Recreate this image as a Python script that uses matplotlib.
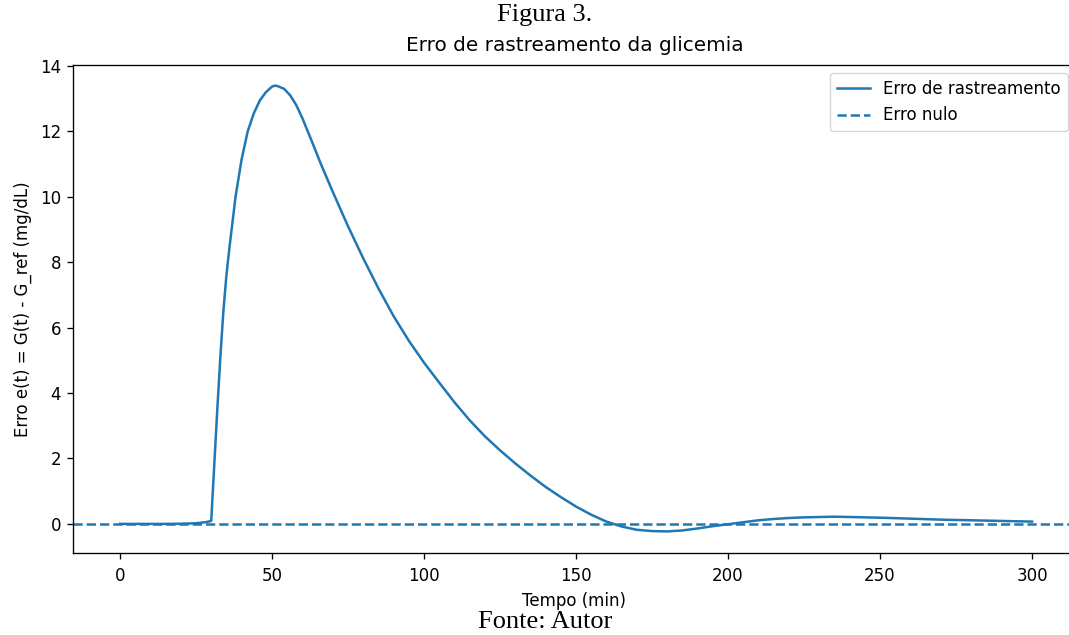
import matplotlib
matplotlib.use("Agg")
import matplotlib.pyplot as plt

# Time (min) and tracking error (mg/dL)
tempo = [0, 5, 10, 15, 20, 25, 28, 30, 31, 32, 33, 34, 35, 36, 38, 40, 42, 44,
         46, 48, 50, 51, 52, 54, 56, 58, 60, 63, 66, 70, 75, 80, 85, 90, 95,
         100, 105, 110, 115, 120, 125, 130, 135, 140, 145, 150, 155, 160, 165,
         170, 175, 180, 185, 190, 195, 200, 205, 210, 215, 220, 225, 230, 235,
         240, 245, 250, 260, 270, 280, 290, 300]
erro = [0.0, 0.0, 0.0, 0.0, 0.005, 0.02, 0.05, 0.09, 1.8, 3.5, 5.1, 6.5, 7.6,
        8.45, 10.0, 11.15, 12.0, 12.55, 12.95, 13.2, 13.37, 13.4, 13.38, 13.3,
        13.1, 12.8, 12.4, 11.72, 11.02, 10.15, 9.1, 8.12, 7.2, 6.35, 5.6, 4.93,
        4.32, 3.72, 3.17, 2.68, 2.25, 1.85, 1.48, 1.13, 0.82, 0.53, 0.28, 0.07,
        -0.08, -0.18, -0.22, -0.23, -0.2, -0.14, -0.07, -0.01, 0.05, 0.11,
        0.15, 0.18, 0.2, 0.21, 0.22, 0.21, 0.2, 0.19, 0.16, 0.13, 0.11, 0.09,
        0.07]
erro_nulo = 0.0

xticks = [0, 50, 100, 150, 200, 250, 300]
yticks = [0, 2, 4, 6, 8, 10, 12, 14]

W, H = 1069, 635
fig = plt.figure(figsize=(W / 100, H / 100), dpi=100)
ax = fig.add_axes([72.9 / W, 82 / H, (1076.1 - 72.9) / W, (553 - 65) / H])

color = "#1f77b4"
ax.plot(tempo, erro, color=color, lw=1.8, label="Erro de rastreamento")
ax.axhline(erro_nulo, color=color, lw=1.8, ls="--", label="Erro nulo")

ax.set_xlim(-15.5, 314.5)
ax.set_ylim(-0.89, 14.03)
ax.set_xticks(xticks)
ax.set_yticks(yticks)
ax.tick_params(labelsize=12, length=4.2, width=0.96, pad=4.2)
ax.tick_params(axis="x", pad=6)
for s in ax.spines.values():
    s.set_linewidth(0.96)
ax.spines["right"].set_visible(False)

ax.set_title("Erro de rastreamento da glicemia", fontsize=14.4, pad=10)
ax.set_xlabel("Tempo (min)", fontsize=12, labelpad=4.8)
ax.set_ylabel("Erro e(t) = G(t) - G_ref (mg/dL)", fontsize=12, labelpad=6)

leg = ax.legend(loc="upper right", fontsize=12, frameon=True)

fig.text(545 / W, 1 - 21 / H, "Figura 3.", ha="center", va="baseline",
         family="Liberation Serif", fontsize=19)
fig.text(545 / W, 1 - 628 / H, "Fonte: Autor", ha="center", va="baseline",
         family="Liberation Serif", fontsize=19)

fig.savefig("out.png", dpi=100)
